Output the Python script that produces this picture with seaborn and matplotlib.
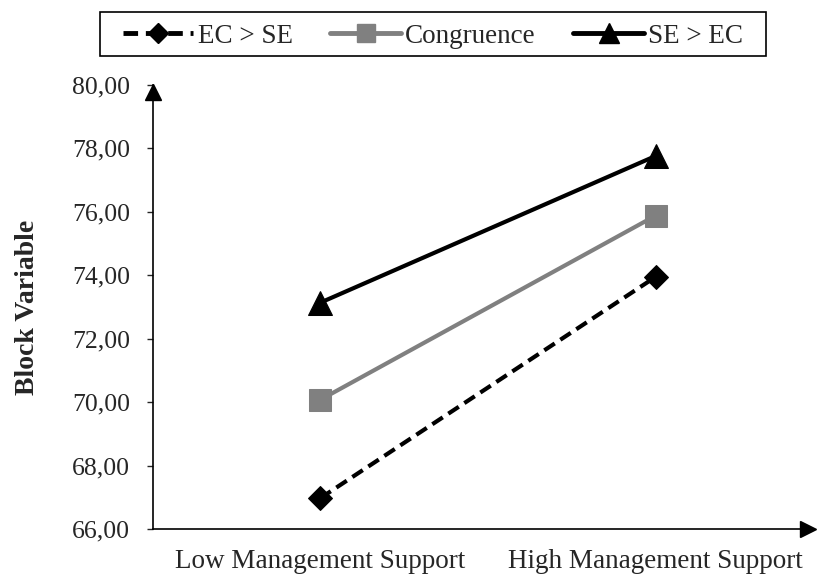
import pandas as pd
import matplotlib
matplotlib.use("Agg")
import matplotlib.pyplot as plt
import seaborn as sns
import matplotlib.ticker as mticker
from matplotlib.lines import Line2D
from matplotlib.patches import Rectangle

# Chart data
conditions = ['Low Management Support', 'High Management Support']
groups = ['EC > SE', 'Congruence', 'SE > EC']
ec_gt_se = [66.98, 73.95]
congruence = [70.08, 75.88]
se_gt_ec = [73.14, 77.76]

df = pd.DataFrame({
    'Condition': conditions * 3,
    'Group': [g for g in groups for _ in conditions],
    'Value': ec_gt_se + congruence + se_gt_ec,
})

sns.set_style("white")
plt.rcParams['font.family'] = ['Liberation Serif', 'DejaVu Serif']

colors = {'EC > SE': 'black', 'Congruence': '#808080', 'SE > EC': 'black'}
markers = {'EC > SE': 'D', 'Congruence': 's', 'SE > EC': '^'}
dashes = {'EC > SE': (3, 1.6), 'Congruence': '', 'SE > EC': ''}
msizes = {'EC > SE': 12, 'Congruence': 16, 'SE > EC': 17}

fig = plt.figure(figsize=(8.17, 5.74), dpi=100)
ax = fig.add_axes([0.187, 0.078, 0.802, 0.774])

for g in groups:
    sub = df[df['Group'] == g]
    sns.lineplot(data=sub, x='Condition', y='Value', ax=ax, color=colors[g],
                 marker=markers[g], markersize=msizes[g], linewidth=3,
                 dashes=False, markeredgecolor=colors[g], legend=False)
    line = ax.lines[-1]
    if dashes[g]:
        line.set_dashes(dashes[g])

ax.set_xlim(-0.5, 1.455)
ax.set_ylim(66, 80)
ax.yaxis.set_major_locator(mticker.MultipleLocator(2))
ax.yaxis.set_major_formatter(mticker.FuncFormatter(lambda v, _: f'{v:.2f}'.replace('.', ',')))
ax.tick_params(axis='y', direction='out', length=4.5, width=1, labelsize=18.5, left=True, pad=12)
ax.tick_params(axis='x', length=0, labelsize=19.5, pad=14)
ax.set_xlabel('')
ax.set_ylabel('Block Variable', fontsize=20, fontweight='bold', labelpad=23)

for s in ['top', 'right']:
    ax.spines[s].set_visible(False)
for s in ['left', 'bottom']:
    ax.spines[s].set_color('black')
    ax.spines[s].set_linewidth(1.2)

# axis arrows
ax.plot(0, 0.985, '^k', markersize=11, transform=ax.transAxes, clip_on=False)
ax.plot(1.0, 0, '>k', markersize=11, transform=ax.transAxes, clip_on=False)

handles = [Line2D([0], [0], color=colors[g], marker=markers[g], markersize=msizes[g] * 0.85,
                  linewidth=3.5, linestyle='--' if dashes[g] else '-',
                  dashes=dashes[g] if dashes[g] else (None, None)) for g in groups]
leg = fig.legend(handles, groups, loc='center', bbox_to_anchor=(0.530, 0.937), ncol=3,
                 frameon=False, fontsize=19.5, handlelength=2.6, handletextpad=0.15,
                 columnspacing=1.4)
# legend box, wider than the entries like in the original
fig.patches.append(Rectangle((0.1224, 0.9024), 0.815, 0.0767, transform=fig.transFigure,
                             fill=False, edgecolor='black', linewidth=1.2))

fig.savefig('out.png', dpi=100)
